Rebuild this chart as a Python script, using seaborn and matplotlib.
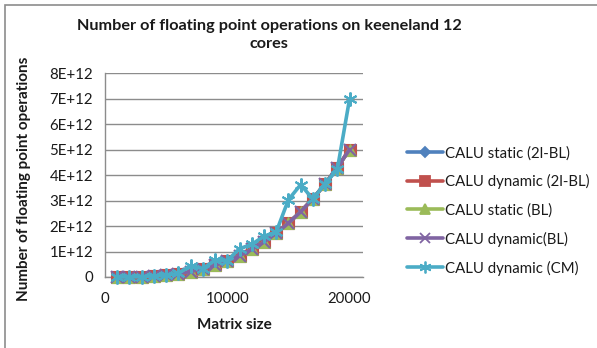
import matplotlib
matplotlib.use("Agg")
import matplotlib.pyplot as plt
import seaborn as sns
import pandas as pd
from matplotlib.patches import Rectangle
from matplotlib.lines import Line2D

# ---- data ----
matrix_size = [1000, 2000, 3000, 4000, 5000, 6000, 7000, 8000, 9000, 10000,
               11000, 12000, 13000, 14000, 15000, 16000, 17000, 18000, 19000, 20000]
bl_flops = [0.006e12, 0.05e12, 0.17e12, 0.40e12, 0.78e12, 1.35e12, 2.14e12, 3.2e12, 4.56e12, 6.25e12,
            8.3e12, 10.8e12, 13.7e12, 17.15e12, 21.1e12, 25.6e12, 30.7e12, 36.5e12, 42.9e12, 50.0e12]
bl_flops = [v / 10 for v in bl_flops]
calu_static_2lbl = bl_flops
calu_dynamic_2lbl = bl_flops
calu_static_bl = bl_flops
calu_dynamic_bl = bl_flops
calu_dynamic_cm = [0.006e12, 0.05e12, 0.17e12, 0.40e12, 0.78e12, 1.40e12, 4.5e12, 3.3e12, 6.6e12, 6.4e12,
                   11.1e12, 12.8e12, 16.0e12, 17.6e12, 30.3e12, 36.2e12, 30.6e12, 36.6e12, 42.2e12, 69.8e12]
calu_dynamic_cm = [v / 10 for v in calu_dynamic_cm]

series_names = ["CALU static (2l-BL)", "CALU dynamic (2l-BL)", "CALU static (BL)",
                "CALU dynamic(BL)", "CALU dynamic (CM)"]
series_values = [calu_static_2lbl, calu_dynamic_2lbl, calu_static_bl, calu_dynamic_bl, calu_dynamic_cm]
series_colors = ["#4F81BD", "#C0504D", "#9BBB59", "#8064A2", "#4BACC6"]
series_markers = ["D", "s", "^", "x", (6, 2, 0)]
series_msize = [6, 9, 8.5, 8, 10]

yticks = [0, 1e12, 2e12, 3e12, 4e12, 5e12, 6e12, 7e12, 8e12]
ytick_labels = ["0", "1E+12", "2E+12", "3E+12", "4E+12", "5E+12", "6E+12", "7E+12", "8E+12"]
xticks = [0, 10000, 20000]
xtick_labels = ["0", "10000", "20000"]

title = "Number of floating point operations on keeneland 12\ncores"
xlabel = "Matrix size"
ylabel = "Number of floating point operations"

rows = []
for name, vals in zip(series_names, series_values):
    for x, y in zip(matrix_size, vals):
        rows.append({"size": x, "flops": y, "series": name})
df = pd.DataFrame(rows)

# ---- plot ----
sns.set_theme(style="white")
plt.rcParams["font.family"] = ["Lato", "DejaVu Sans"]

W, H = 597, 348
fig = plt.figure(figsize=(W / 100, H / 100), dpi=100)
ax = fig.add_axes([105 / W, (H - 277) / H, 258 / W, 204 / H])

for name, color, mk, ms in zip(series_names, series_colors, series_markers, series_msize):
    sub = df[df["series"] == name]
    sns.lineplot(data=sub, x="size", y="flops", ax=ax, color=color, linewidth=2.6,
                 marker=mk, markersize=ms, markeredgecolor=color,
                 markeredgewidth=1.5 if mk in ("x",) or isinstance(mk, tuple) else 0.8,
                 clip_on=False, legend=False, zorder=3)

ax.set_xlim(0, 21100)
ax.set_ylim(0, 8e12)
ax.set_yticks(yticks)
ax.set_yticklabels(ytick_labels)
ax.set_xticks(xticks)
ax.set_xticklabels(xtick_labels)
ax.yaxis.grid(True, color="#8c8c8c", linewidth=1.0)
ax.set_axisbelow(True)
for s in ["top", "right"]:
    ax.spines[s].set_visible(False)
for s in ["left", "bottom"]:
    ax.spines[s].set_color("#8c8c8c")
    ax.spines[s].set_linewidth(1.0)
ax.tick_params(axis="both", direction="out", length=4.5, width=1.0, color="#8c8c8c",
               labelsize=10.8, labelcolor="#1a1a1a")
ax.tick_params(axis="y", pad=4)
ax.tick_params(axis="x", pad=6)

ax.set_xlabel(xlabel, fontsize=11, fontweight="bold", color="#1a1a1a", labelpad=9)
ax.set_ylabel(ylabel, fontsize=11, fontweight="bold", color="#1a1a1a")
ax.yaxis.set_label_coords(-0.285, 0.48)

fig.text(269 / W, 1 - 35 / H, title, ha="center", va="center", fontsize=11.7,
         fontweight="bold", color="#1a1a1a", linespacing=1.45)

handles = [Line2D([0], [0], color=c, linewidth=2.6, marker=m, markersize=ms * 0.85,
                  markeredgecolor=c, markeredgewidth=1.3)
           for c, m, ms in zip(series_colors, series_markers, series_msize)]
fig.legend(handles, series_names, loc="upper left", bbox_to_anchor=(401 / W, 1 - 140 / H),
           frameon=False, fontsize=10.8, handlelength=2.4, handletextpad=0.15,
           labelspacing=0.93, borderaxespad=0, labelcolor="#1a1a1a")

fig.patches.append(Rectangle((5 / W, -0.1), 2, 1.1 - 5 / H, transform=fig.transFigure,
                             fill=False, edgecolor="#8c8c8c", linewidth=1.2))

fig.savefig("out.png", dpi=100)
